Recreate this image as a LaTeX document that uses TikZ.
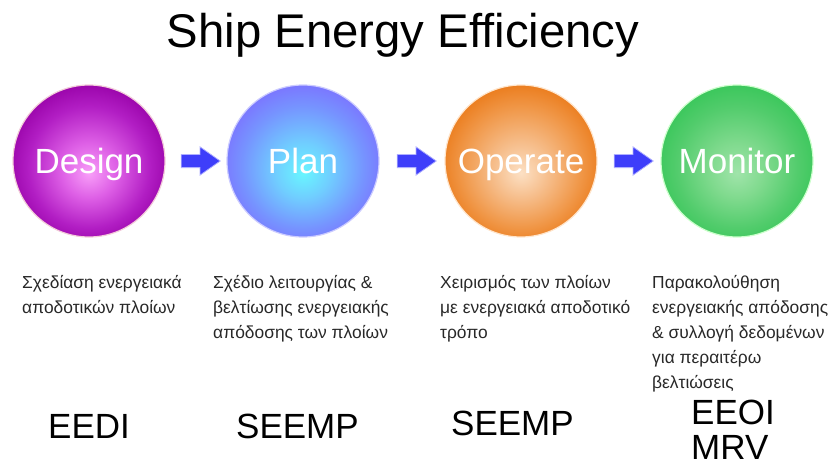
\documentclass[tikz,border=0pt]{standalone}
\usepackage{fontspec}
\setmainfont{Liberation Sans}
\usetikzlibrary{shapes.arrows,calc}

% radial shadings for the four stage balls (light core, slightly below centre);
% 25bp corresponds to the ball's radius
\pgfdeclareradialshading{ballDesign}{\pgfpoint{0bp}{-4bp}}{%
  color(0bp)=(rgb,255:red,248;green,158;blue,248);
  color(9bp)=(rgb,255:red,222;green,96;blue,230);
  color(20bp)=(rgb,255:red,178;green,30;blue,196);
  color(28bp)=(rgb,255:red,150;green,0;blue,166);
  color(40bp)=(rgb,255:red,150;green,0;blue,166)}
\pgfdeclareradialshading{ballPlan}{\pgfpoint{0bp}{-4bp}}{%
  color(0bp)=(rgb,255:red,104;green,246;blue,255);
  color(9bp)=(rgb,255:red,112;green,206;blue,255);
  color(20bp)=(rgb,255:red,118;green,148;blue,255);
  color(28bp)=(rgb,255:red,124;green,112;blue,255);
  color(40bp)=(rgb,255:red,124;green,112;blue,255)}
\pgfdeclareradialshading{ballOperate}{\pgfpoint{0bp}{-4bp}}{%
  color(0bp)=(rgb,255:red,252;green,224;blue,196);
  color(9bp)=(rgb,255:red,246;green,190;blue,140);
  color(20bp)=(rgb,255:red,240;green,150;blue,70);
  color(28bp)=(rgb,255:red,234;green,120;blue,22);
  color(40bp)=(rgb,255:red,234;green,120;blue,22)}
\pgfdeclareradialshading{ballMonitor}{\pgfpoint{0bp}{-4bp}}{%
  color(0bp)=(rgb,255:red,160;green,228;blue,170);
  color(9bp)=(rgb,255:red,128;green,218;blue,142);
  color(20bp)=(rgb,255:red,82;green,204;blue,108);
  color(28bp)=(rgb,255:red,54;green,198;blue,88);
  color(40bp)=(rgb,255:red,54;green,198;blue,88)}

\definecolor{bodytext}{RGB}{40,40,40}
\definecolor{arrowblue}{RGB}{62,62,250}
\definecolor{arrowglow}{RGB}{175,175,255}

\tikzset{
  ball/.style={circle, minimum size=152pt, inner sep=0pt,
    draw=white!80!#1, line width=1.2pt,
    text=white, font=\fontsize{35}{40}\selectfont,
    text height=25pt, text depth=0pt},
  blockarrow/.style={single arrow, single arrow tip angle=70,
    single arrow head extend=7.5pt, inner sep=6.2pt,
    minimum height=39pt, fill=arrowblue, draw=arrowglow, line width=0.8pt},
  desc/.style={anchor=base west, inner sep=0pt, text=bodytext,
    font=\fontsize{17.4}{25}\selectfont},
  code/.style={anchor=base west, inner sep=0pt, text=black,
    font=\fontsize{35}{37}\selectfont}
}
% left-aligned text block whose reference point is the first baseline
\newcommand{\lines}[1]{\begin{tabular}[t]{@{}l@{}}#1\end{tabular}}

\begin{document}
\begin{tikzpicture}[x=1pt,y=-1pt]
  \useasboundingbox (0,0) rectangle (836,466);

  % title
  \node[anchor=base, inner sep=0pt, font=\fontsize{47.3}{50}\selectfont] (title) at (403,47) {Ship Energy Efficiency};

  % stage balls
  \node[ball=purple, shading=ballDesign] (design) at (89,161) {Design};
  \node[ball=blue, shading=ballPlan] (plan) at (303,161) {Plan};
  \node[ball=orange, shading=ballOperate] (operate) at (521,161) {Operate};
  \node[ball=green, shading=ballMonitor] (monitor) at (737,161) {Monitor};

  % block arrows between the stages
  \node[blockarrow] (a1) at ($(design.east)!0.5!(plan.west)$) {};
  \node[blockarrow] (a2) at ($(plan.east)!0.5!(operate.west)$) {};
  \node[blockarrow] (a3) at ($(operate.east)!0.5!(monitor.west)$) {};

  % descriptions
  \node[desc] (d1) at (22,288) {\lines{Σχεδίαση ενεργειακά\\αποδοτικών πλοίων}};
  \node[desc] (d2) at (213,288) {\lines{Σχέδιο λειτουργίας \&\\βελτίωσης ενεργειακής\\απόδοσης των πλοίων}};
  \node[desc] (d3) at (440,288) {\lines{Χειρισμός των πλοίων\\με ενεργειακά αποδοτικό\\τρόπο}};
  \node[desc] (d4) at (652,288) {\lines{Παρακολούθηση\\ενεργειακής απόδοσης\\\& συλλογή δεδομένων\\για περαιτέρω\\βελτιώσεις}};

  % indicators
  \node[code] (c1) at (48,438) {EEDI};
  \node[code] (c2) at (236,438) {SEEMP};
  \node[code] (c3) at (451,435) {SEEMP};
  \node[code] (c4) at (691,424) {EEOI};
  \node[code] (c5) at (691,459.5) {MRV};
\end{tikzpicture}
\end{document}
